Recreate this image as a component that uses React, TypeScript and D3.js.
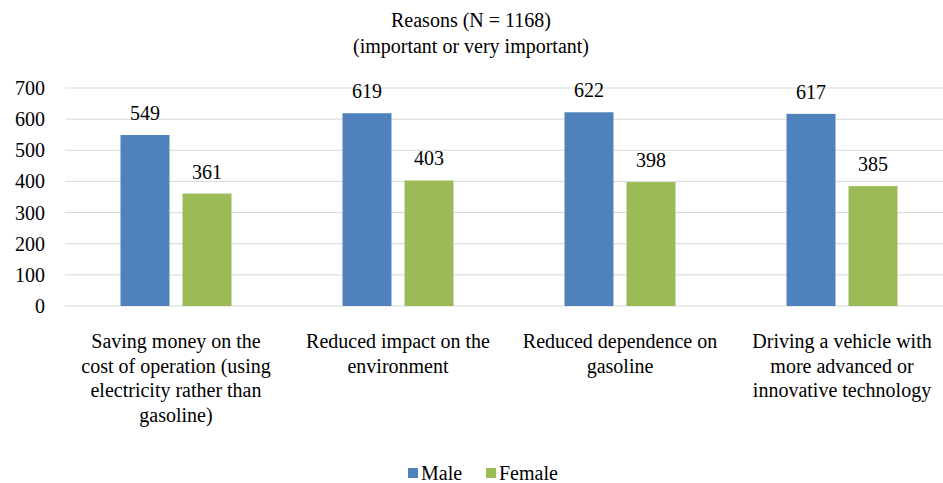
import React from "react";
import * as d3 from "d3";

// --- Data ---
const CATEGORIES = [
  "Saving money on the\ncost of operation (using\nelectricity rather than\ngasoline)",
  "Reduced impact on the\nenvironment",
  "Reduced dependence on\ngasoline",
  "Driving a vehicle with\nmore advanced or\ninnovative technology",
];
const SERIES = ["Male", "Female"];
const MALE = [549, 619, 622, 617];
const FEMALE = [361, 403, 398, 385];
const Y_TICKS = [0, 100, 200, 300, 400, 500, 600, 700];
const COLORS = ["#4F81BD", "#9BBB59"];

// --- Layout ---
const W = 943;
const H = 483;
const PLOT_LEFT = 65;
const PLOT_RIGHT = 953; // Excel plot area runs off the right edge
const Y_TOP = 88;
const Y_BOTTOM = 306;
const FONT = "'Liberation Serif', Tinos, 'Times New Roman', serif";

const txt = { fontFamily: FONT, fontSize: 20 };

export default function App() {
  const values = [MALE, FEMALE];

  const x0 = d3
    .scaleBand<number>()
    .domain(CATEGORIES.map((_, i) => i))
    .range([PLOT_LEFT, PLOT_RIGHT])
    .paddingInner(0.5)
    .paddingOuter(0.25);

  const x1 = d3
    .scaleBand<number>()
    .domain(SERIES.map((_, i) => i))
    .range([0, x0.bandwidth()])
    .paddingInner(0.21)
    .paddingOuter(0);

  const y = d3.scaleLinear().domain([0, 700]).range([Y_BOTTOM, Y_TOP]);

  return (
    <svg
      width={W}
      height={H}
      fontFamily={FONT}
      style={{ position: "absolute", left: 0, top: 0, fontFamily: FONT }}
    >
      {/* title */}
      <text x={471} y={27} textAnchor="middle" fontFamily={FONT} style={txt}>
        Reasons (N = 1168)
      </text>
      <text x={471} y={53} textAnchor="middle" fontFamily={FONT} style={txt}>
        (important or very important)
      </text>

      {/* gridlines + y labels */}
      {Y_TICKS.map((t) => (
        <g key={t}>
          <line
            x1={PLOT_LEFT}
            x2={W}
            y1={y(t)}
            y2={y(t)}
            stroke="#D9D9D9"
            strokeWidth={1}
          />
          <text
            x={45}
            y={y(t) + 7}
            textAnchor="end"
            fontFamily={FONT}
            style={txt}
          >
            {t}
          </text>
        </g>
      ))}

      {/* bars */}
      {CATEGORIES.map((_, ci) => (
        <g key={ci} transform={`translate(${x0(ci)},0)`}>
          {values.map((vals, si) => {
            const bx = x1(si) as number;
            const v = vals[ci];
            return (
              <g key={si}>
                <rect
                  x={bx}
                  y={y(v)}
                  width={x1.bandwidth()}
                  height={Y_BOTTOM - y(v)}
                  fill={COLORS[si]}
                />
                <text
                  x={bx + x1.bandwidth() / 2}
                  y={y(v) - 15}
                  textAnchor="middle"
                  fontFamily={FONT}
                  style={txt}
                >
                  {v}
                </text>
              </g>
            );
          })}
        </g>
      ))}

      {/* category labels */}
      {CATEGORIES.map((c, ci) => {
        const cx = (x0(ci) as number) + x0.bandwidth() / 2;
        return (
          <text key={ci} textAnchor="middle" fontFamily={FONT} style={txt}>
            {c.split("\n").map((line, li) => (
              <tspan key={li} x={cx} y={348 + li * 24.7}>
                {line}
              </tspan>
            ))}
          </text>
        );
      })}

      {/* legend */}
      {SERIES.map((s, i) => {
        const lx = [408, 486][i];
        return (
          <g key={s}>
            <rect x={lx} y={468} width={10} height={10} fill={COLORS[i]} />
            <text x={lx + 13} y={480} fontFamily={FONT} style={txt}>
              {s}
            </text>
          </g>
        );
      })}
    </svg>
  );
}
